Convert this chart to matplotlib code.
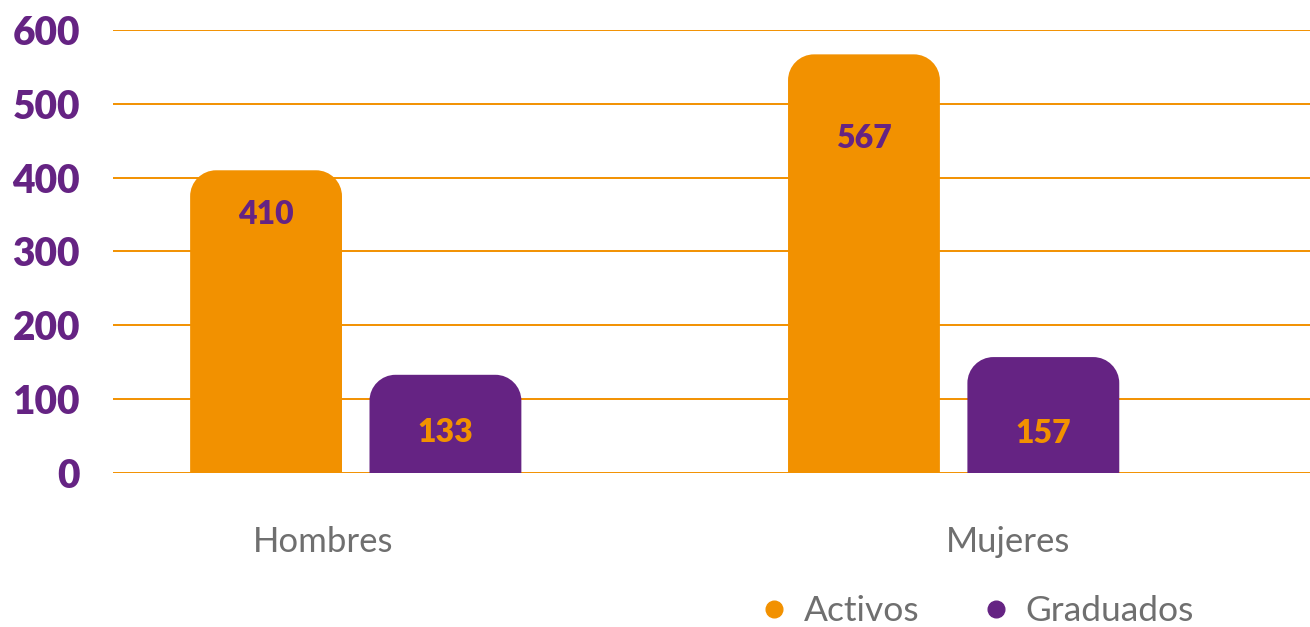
import matplotlib
matplotlib.use("Agg")
import matplotlib.pyplot as plt
import numpy as np
from matplotlib.patches import PathPatch
from matplotlib.path import Path
from matplotlib.lines import Line2D

# ---- data ----
categories = ["Hombres", "Mujeres"]
series_names = ["Activos", "Graduados"]
activos = [410, 567]
graduados = [133, 157]
yticks = [0, 100, 200, 300, 400, 500, 600]

# ---- style ----
ORANGE = "#F29100"
PURPLE = "#652383"
GRAY = "#6F6F6F"
FONT = "Lato"
W_PX, H_PX, DPI = 1310, 627, 100
PX = 72.0 / DPI  # points per pixel
K = 0.5523  # bezier circle constant


def top_rounded_path(x0, y0, w, h, rx, ry):
    x1, y1 = x0 + w, y0 + h
    verts = [
        (x0, y0), (x1, y0), (x1, y1 - ry),
        (x1, y1 - ry + K * ry), (x1 - rx + K * rx, y1), (x1 - rx, y1),
        (x0 + rx, y1),
        (x0 + rx - K * rx, y1), (x0, y1 - ry + K * ry), (x0, y1 - ry),
        (x0, y0),
    ]
    codes = [Path.MOVETO, Path.LINETO, Path.LINETO,
             Path.CURVE4, Path.CURVE4, Path.CURVE4,
             Path.LINETO,
             Path.CURVE4, Path.CURVE4, Path.CURVE4,
             Path.CLOSEPOLY]
    return Path(verts, codes)


fig = plt.figure(figsize=(W_PX / DPI, H_PX / DPI), dpi=DPI)
ax = fig.add_axes([113 / W_PX, (H_PX - 473) / H_PX, 1197 / W_PX, 443 / H_PX])
ax.set_xlim(-0.405, 1.597)
ax.set_ylim(0, 600)

x = np.arange(len(categories))
bw = 0.254
offs = [-0.149, 0.151]
colors = [ORANGE, PURPLE]
label_colors = [PURPLE, ORANGE]
label_offsets_px = [[44, 84], [58, 76]]
RADIUS_PX = 26
xpp = (ax.get_xlim()[1] - ax.get_xlim()[0]) / 1197
ypp = (ax.get_ylim()[1] - ax.get_ylim()[0]) / 443

for s, vals in enumerate([activos, graduados]):
    bars = ax.bar(x + offs[s], vals, width=bw, color=colors[s], zorder=3)
    for i, b in enumerate(bars):
        b.set_visible(False)
        bx, by, bwid, bh = b.get_x(), b.get_y(), b.get_width(), b.get_height()
        p = top_rounded_path(bx, by, bwid, bh, RADIUS_PX * xpp, RADIUS_PX * ypp)
        ax.add_patch(PathPatch(p, fc=colors[s], ec="none", zorder=3))
        ax.annotate(f"{vals[i]}", (bx + bwid / 2, bh), xytext=(0, -label_offsets_px[s][i] * PX),
                    textcoords="offset points", ha="center", va="center",
                    fontsize=23, fontweight="heavy", family=FONT, color=label_colors[s], zorder=4)

ax.set_yticks(yticks)
ax.set_yticklabels([str(t) for t in yticks], fontsize=28, fontweight="heavy", family=FONT, color=PURPLE)
ax.tick_params(axis="y", length=0, pad=33 * PX)
ax.grid(axis="y", color=ORANGE, linewidth=1.4, zorder=0)
ax.set_axisbelow(True)
for sp in ax.spines.values():
    sp.set_visible(False)

ax.set_xticks([-0.054, 1.092])
ax.set_xticklabels(categories, fontsize=25, family=FONT, color=GRAY)
ax.tick_params(axis="x", length=0, pad=53 * PX)

handles = [Line2D([], [], marker="o", linestyle="none", markersize=12, color=c) for c in colors]
fig.legend(handles, series_names, loc="center", bbox_to_anchor=(975 / W_PX, 1 - 611 / H_PX),
           ncol=2, frameon=False, prop={"family": FONT, "size": 25.5}, labelcolor=GRAY,
           handletextpad=0.35, columnspacing=1.65, handlelength=1.0)

fig.savefig("out.png", dpi=DPI)
